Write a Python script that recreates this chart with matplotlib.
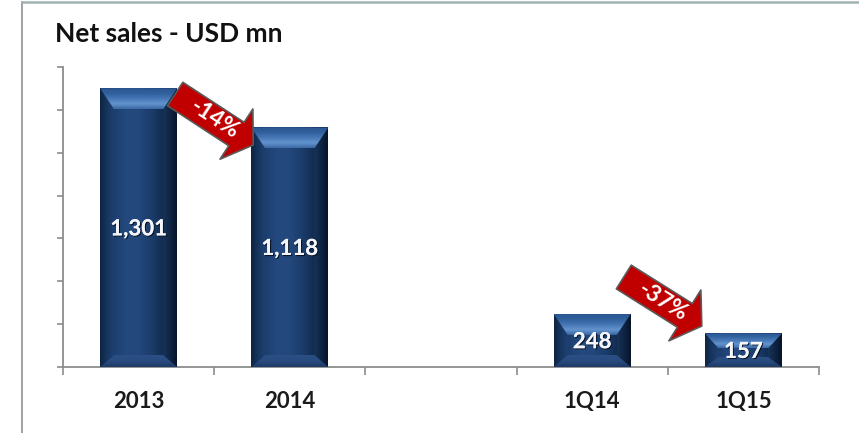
import numpy as np
import matplotlib
matplotlib.use("Agg")
import matplotlib.pyplot as plt
from matplotlib.patches import Polygon
from matplotlib.lines import Line2D
from matplotlib.colors import to_rgb
from matplotlib.transforms import blended_transform_factory
import matplotlib.patheffects as pe

plt.rcParams["font.family"] = ["Lato", "DejaVu Sans"]

# ---- data -------------------------------------------------------------
categories = ["2013", "2014", "", "1Q14", "1Q15"]
net_sales = [1301, 1118, None, 248, 157]
value_labels = ["1,301", "1,118", "", "248", "157"]
change_labels = ["-14%", "-37%"]
change_pairs = [(0, 1), (3, 4)]

# ---- layout -----------------------------------------------------------
W, H, DPI = 859, 433, 100
fig = plt.figure(figsize=(W / DPI, H / DPI), dpi=DPI)
fig.patch.set_facecolor("white")

ax_left, ax_right, ax_top, ax_bottom = 63, 819, 67, 367
ax = fig.add_axes([ax_left / W, (H - ax_bottom) / H,
                   (ax_right - ax_left) / W, (ax_bottom - ax_top) / H])
YMAX = 1400
XMIN, XMAX = -0.5, len(categories) - 0.5
ax.set_xlim(XMIN, XMAX)
ax.set_ylim(0, YMAX)

# pixels per data unit
ppx = (ax_right - ax_left) / (XMAX - XMIN)
ppy = (ax_bottom - ax_top) / YMAX

axis_col = "#8c8c8c"
for s in ("top", "right"):
    ax.spines[s].set_visible(False)
for s in ("left", "bottom"):
    ax.spines[s].set_color(axis_col)
    ax.spines[s].set_linewidth(1.3)

ax.set_yticks(np.arange(0, YMAX + 1, 200))
ax.set_yticklabels([])
ax.tick_params(axis="y", direction="out", length=4.5, width=1.2, color=axis_col)
ax.set_xticks(np.arange(XMIN, XMAX + 0.01, 1.0))
ax.set_xticklabels([])
ax.tick_params(axis="x", direction="out", length=6, width=1.2, color=axis_col)

# ---- bars -------------------------------------------------------------
BAR_W = 0.51
xs = [i for i, v in enumerate(net_sales) if v is not None]
vals = [net_sales[i] for i in xs]
bars = ax.bar(xs, vals, width=BAR_W, color="#1f4275", zorder=2, linewidth=0)


def grad_img(colors, n=64, vertical=False):
    stops = np.linspace(0, 1, len(colors))
    t = np.linspace(0, 1, n)
    rgb = np.array([to_rgb(c) for c in colors])
    arr = np.stack([np.interp(t, stops, rgb[:, k]) for k in range(3)], axis=-1)
    if vertical:
        return arr[:, None, :]
    return arr[None, :, :]


def clipped_gradient(pts, colors, vertical, z):
    poly = Polygon(pts, closed=True, transform=ax.transData,
                   facecolor="none", edgecolor="none")
    xs_, ys_ = zip(*pts)
    im = ax.imshow(grad_img(colors, vertical=vertical),
                   extent=[min(xs_), max(xs_), min(ys_), max(ys_)],
                   origin="upper", aspect="auto", interpolation="bicubic",
                   zorder=z)
    im.set_clip_path(poly)


for rect in bars:
    x0 = rect.get_x()
    x1 = x0 + rect.get_width()
    h = rect.get_height()
    hpx = h * ppy
    bx = 14 / ppx
    ty = min(21, 0.45 * hpx) / ppy
    by = min(12, 0.30 * hpx) / ppy
    # body: horizontal shading
    clipped_gradient([(x0, 0), (x1, 0), (x1, h), (x0, h)],
                     ["#0d2240", "#1c3e6e", "#24497e", "#23487c",
                      "#1b3c6a", "#112a4e", "#081528"], False, 3)
    # left and right mitred sides
    clipped_gradient([(x0, 0), (x0 + bx, by), (x0 + bx, h - ty), (x0, h)],
                     ["#0e2442", "#173660", "#1f4272"], False, 4)
    clipped_gradient([(x1, 0), (x1 - bx, by), (x1 - bx, h - ty), (x1, h)],
                     ["#183459", "#0f2443", "#07142a"], False, 4)
    # top bevel with highlight towards the inner edge
    clipped_gradient([(x0, h), (x1, h), (x1 - bx, h - ty), (x0 + bx, h - ty)],
                     ["#2a5690", "#30609c", "#4676b4", "#6494ce", "#3a68a2"],
                     True, 5)
    # bottom bevel
    clipped_gradient([(x0, 0), (x1, 0), (x1 - bx, by), (x0 + bx, by)],
                     ["#2b5086", "#284a7e", "#1d3a66"], True, 5)

ax.set_xlim(XMIN, XMAX)
ax.set_ylim(0, YMAX)

# ---- value labels inside bars ----------------------------------------
shadow = [pe.withSimplePatchShadow(offset=(0.8, -0.8),
                                   shadow_rgbFace="#050d1c", alpha=0.85),
          pe.Normal()]
for x, v in zip(xs, vals):
    ax.annotate(value_labels[x], (x, v / 2), xytext=(0, -5.6),
                textcoords="offset points", ha="center", va="baseline",
                color="#f4f6fa", fontsize=16, fontweight="bold",
                zorder=8, path_effects=shadow)

# ---- category labels --------------------------------------------------
bt = blended_transform_factory(ax.transData, ax.transAxes)
for i, c in enumerate(categories):
    if c:
        ax.text(i, -(408 - ax_bottom) / (ax_bottom - ax_top), c,
                transform=bt, ha="center", va="baseline",
                fontsize=16, fontweight="bold", color="#1a1a1a")

# ---- change arrows ----------------------------------------------------
# arrow tail / tip anchors between the compared bars
arrow_anchor = [((0.242, 1274), (0.758, 1036)),
                ((3.209, 420), (3.725, 191))]
for lbl, (a, b), (tail, tip) in zip(change_labels, change_pairs, arrow_anchor):
    ax.annotate("", xy=tip, xytext=tail,
                arrowprops=dict(arrowstyle="simple,head_length=20,head_width=60,tail_width=28",
                                mutation_scale=72 / DPI, fc="#c00000",
                                ec="#5a5a5a", lw=1.2, shrinkA=0, shrinkB=0),
                zorder=9, annotation_clip=False)
    dxp = (tip[0] - tail[0]) * ppx
    dyp = (tip[1] - tail[1]) * ppy
    ang = np.degrees(np.arctan2(dyp, dxp))
    mx = (tail[0] + tip[0]) / 2
    my = (tail[1] + tip[1]) / 2
    ax.text(mx, my, lbl, rotation=ang, rotation_mode="anchor",
            ha="center", va="center", color="white", fontsize=16.5,
            fontweight="bold", zorder=10)

# ---- title and frame --------------------------------------------------
fig.text(55 / W, 1 - 42 / H, "Net sales - USD mn", ha="left",
         va="baseline", fontsize=19, fontweight="bold", color="#111111")

fig.add_artist(Line2D([22 / W, 22 / W], [0, 1 - 1.5 / H],
                      color="#9a9a9a", lw=1.3, transform=fig.transFigure))
fig.add_artist(Line2D([22 / W, 1], [1 - 2 / H, 1 - 2 / H],
                      color="#a3b3b3", lw=1.8, transform=fig.transFigure))

fig.savefig("out.png", dpi=DPI, facecolor="white")
